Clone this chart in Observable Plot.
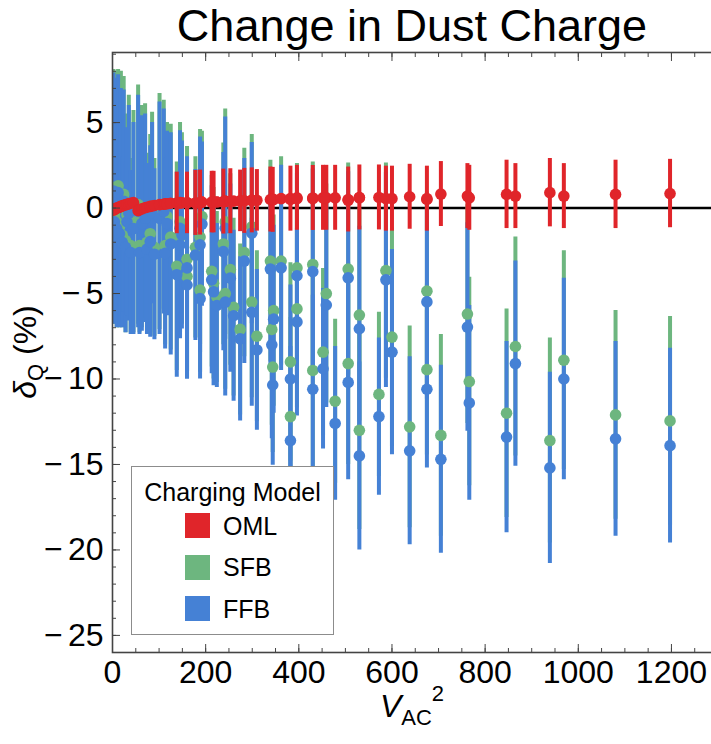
<!DOCTYPE html>
<html><head><meta charset="utf-8">
<script src="https://cdn.jsdelivr.net/npm/d3@7"></script>
<script src="https://cdn.jsdelivr.net/npm/@observablehq/plot@0.6"></script>
<style>
body{margin:0;background:#fff;}
#wrap{position:relative;width:711px;height:744px;font-family:"Liberation Sans",Arial,sans-serif;}
#legend{position:absolute;left:131px;top:466px;width:203px;height:169px;border:1.5px solid #8c8c8c;background:#fff;box-sizing:border-box;}
#legend .lt{position:absolute;left:0;width:100%;top:11px;text-align:center;font-size:25px;line-height:28px;color:#000;}
#legend .sw{position:absolute;left:53px;width:25px;height:25px;}
#legend .lb{position:absolute;left:91px;font-size:25px;line-height:28px;color:#000;}
</style></head><body><div id="wrap"></div>
<script>
// V_AC^2 of each measurement
const vac2 = [2,4,6,9,12,15,18,21,24,28,31,35,39,45,55,58,63,70,74,81,85,90,101,110,113,117,125,
  138,145,145,149,160,160,178,188,188,192,213,217,224,238,242,242,253,260,274,283,299,299,310,339,342,344,346,362,382,382,396,396,
  430,430,452,459,478,506,506,530,530,572,587,600,638,675,675,705,762,766,846,865,939,969,1080,1197];
// OML model
const oml = [-0.12,-0.08,-0.05,0.0,0.03,0.06,0.1,0.13,0.16,0.19,0.22,0.25,0.28,0.32,-0.15,-0.1,-0.05,0.02,0.05,0.1,0.12,0.15,0.2,0.22,0.25,0.25,0.28,
  0.3,0.3,0.32,0.3,0.3,0.32,0.3,0.32,0.3,0.35,0.35,0.35,0.35,0.38,0.4,0.38,0.4,0.4,0.42,0.42,0.45,0.45,0.45,0.5,0.5,0.48,0.5,0.55,0.55,0.5,0.6,0.55,
  0.59,0.55,0.6,0.6,0.6,0.5,0.45,0.62,0.6,0.62,0.55,0.55,0.66,0.55,0.5,0.82,0.7,0.6,0.8,0.7,0.9,0.7,0.8,0.85];
const omlErr = [0.15,0.15,0.15,0.15,0.15,0.15,0.15,0.15,0.15,0.15,0.15,0.15,0.15,0.15,0.15,0.15,0.15,0.15,0.15,0.15,0.15,0.15,0.15,0.15,0.15,0.15,0.15,
  1.8,0.3,0.3,0.3,1.8,0.3,1.9,1.9,0.3,0.3,1.8,1.8,0.3,1.9,0.3,0.3,1.9,0.3,1.8,1.9,1.9,0.3,1.8,1.9,0.3,1.9,0.3,0.3,1.9,0.3,1.9,0.3,
  1.9,0.3,1.9,1.9,1.9,1.9,0.3,1.9,0.3,1.9,1.9,1.9,1.9,1.9,0.3,1.9,1.9,1.9,2.0,1.9,2.0,1.9,2.0,2.0];
// SFB model
const sfb = [1.2,-0.4,1.0,-0.8,1.3,-1.1,0.6,-1.6,0.8,-1.9,-0.4,0.1,-2.2,-0.8,0.2,-2.2,-0.5,-0.2,-2.0,-1.5,0.1,-2.3,-0.2,0.2,-2.2,-0.5,-1.7,
  -3.4,-0.8,-1.7,-1.2,-3.0,-4.0,-2.3,-1.7,-4.8,-0.5,-3.7,-4.4,-5.2,-2.1,-0.8,-5.0,-3.6,-5.8,-7.1,-2.6,-1.1,-5.5,-7.5,-3.1,-7.1,-9.3,-6.0,-3.1,-9.0,-12.2,-3.5,-5.9,
  -3.3,-9.5,-8.43,-5.0,-11.3,-3.57,-9.1,-6.26,-13.0,-10.9,-3.66,-7.55,-12.8,-4.86,-9.45,-13.3,-6.2,-10.15,-12.0,-8.1,-13.6,-8.9,-12.1,-12.45];
const sfbErr = [6.9,6.4,7.0,6.2,6.8,5.9,7.4,5.4,6.9,5.4,5.9,6.5,5.1,6.5,7.0,5.1,6.5,6.3,5.2,5.8,5.5,5.2,6.9,6.1,5.8,5.5,6.6,
  6.1,5.8,5.6,5.6,6.6,5.6,5.3,6.3,4.8,5.0,5.6,5.6,5.0,5.9,6.6,5.6,5.6,5.2,5.0,6.1,5.4,5.6,5.0,5.9,5.6,5.0,5.6,6.1,5.8,5.8,6.1,5.8,
  6.0,5.8,4.9,6.4,4.8,6.2,5.9,6.2,5.8,4.8,6.3,6.4,5.9,5.8,5.0,5.9,6.4,6.1,6.1,6.4,6.0,6.4,6.1,6.1];
// FFB model
const ffb = [1.0,-0.8,0.6,-1.2,0.9,-1.5,0.2,-2.0,0.4,-2.3,-0.8,-0.3,-2.6,-1.2,-0.2,-2.6,-0.9,-0.6,-2.4,-1.96,-0.3,-2.7,-0.6,-0.2,-2.65,-0.9,-2.1,
  -3.9,-1.18,-2.15,-1.57,-3.5,-4.5,-2.75,-2.15,-5.3,-0.94,-4.2,-4.9,-5.7,-2.55,-1.18,-5.5,-4.1,-6.3,-7.65,-3.1,-1.47,-6.1,-8.3,-3.57,-8.0,-10.35,-6.5,-3.5,-10.0,-13.6,-3.96,-6.66,
  -3.72,-10.6,-9.4,-5.67,-12.6,-4.08,-10.2,-7.06,-14.5,-12.2,-4.2,-8.43,-14.2,-5.49,-10.6,-14.7,-6.96,-11.4,-13.4,-9.1,-15.2,-10.0,-13.5,-13.9];
const ffbErr = [6.9,6.0,7.0,5.8,6.9,5.5,6.8,5.0,6.5,5.0,5.5,6.3,4.8,6.2,6.8,4.8,6.3,6.1,5.0,5.6,5.3,5.0,6.8,6.0,5.6,5.4,6.5,
  6.0,5.7,5.5,5.5,6.5,5.5,5.0,6.3,4.7,4.8,5.5,5.5,4.8,5.8,6.5,5.5,5.5,5.0,4.8,6.0,5.3,5.5,4.7,5.8,5.5,4.7,5.5,6.0,5.5,5.5,6.0,5.5,
  6.0,5.5,4.7,6.0,4.5,6.2,5.7,6.0,5.5,4.6,6.3,6.0,5.5,5.7,4.6,5.5,6.1,5.7,5.6,6.0,5.6,5.9,5.7,5.7];

const models = ["OML", "SFB", "FFB"];
const colors = ["#E0252A", "#6DB67F", "#4581D5"];
const yTicks = [-25, -20, -15, -10, -5, 0, 5];
const xTicks = [0, 200, 400, 600, 800, 1000, 1200];

const data = vac2.map((x, i) => ({x, oml: oml[i], omlErr: omlErr[i], sfb: sfb[i], sfbErr: sfbErr[i], ffb: ffb[i], ffbErr: ffbErr[i]}));
const col = Object.fromEntries(models.map((m, i) => [m, colors[i]]));
const noText = () => "";
const yFmt = v => v < 0 ? "\u2212\u2006" + Math.abs(v) : String(v);
const font = "Liberation Sans, Arial, sans-serif";
const R = 5.8;

const plot = Plot.plot({
  width: 711, height: 744,
  marginLeft: 112, marginRight: 0, marginTop: 52, marginBottom: 92,
  style: {fontFamily: font, background: "white", overflow: "visible", color: "black"},
  x: {domain: [0, 1286]},
  y: {domain: [-26, 9.1]},
  marks: [
    Plot.ruleY([0], {stroke: "black", strokeWidth: 2.5}),
    Plot.ruleX(data, {x: "x", y1: d => d.sfb - d.sfbErr, y2: d => d.sfb + d.sfbErr, stroke: col.SFB, strokeWidth: 4, clip: true}),
    Plot.ruleX(data, {x: "x", y1: d => d.ffb - d.ffbErr, y2: d => d.ffb + d.ffbErr, stroke: col.FFB, strokeWidth: 4, clip: true}),
    Plot.dot(data, {x: "x", y: "sfb", r: R, fill: col.SFB, clip: true}),
    Plot.dot(data, {x: "x", y: "ffb", r: R, fill: col.FFB, clip: true}),
    Plot.ruleX(data, {x: "x", y1: d => d.oml - d.omlErr, y2: d => d.oml + d.omlErr, stroke: col.OML, strokeWidth: 4, clip: true}),
    Plot.dot(data, {x: "x", y: "oml", r: R, fill: col.OML, clip: true}),
    Plot.frame({stroke: "#444", strokeWidth: 1.6, insetRight: -4}),
    Plot.axisY({ticks: yTicks, tickSize: -8, tickPadding: 17, fontSize: 32, label: null, stroke: "#444", tickFormat: yFmt}),
    Plot.axisY({ticks: d3.range(-26, 10, 1), tickSize: -4, tickFormat: noText, label: null, stroke: "#444"}),
    Plot.axisX({ticks: xTicks, tickSize: -8, tickPadding: 16, fontSize: 32, label: null, stroke: "#444", tickFormat: d3.format("d")}),
    Plot.axisX({ticks: d3.range(0, 1300, 50), tickSize: -4, tickFormat: noText, label: null, stroke: "#444"}),
    Plot.axisX({anchor: "top", ticks: xTicks, tickSize: -8, tickFormat: noText, label: null, stroke: "#444"}),
    Plot.axisX({anchor: "top", ticks: d3.range(0, 1300, 50), tickSize: -4, tickFormat: noText, label: null, stroke: "#444"})
  ]
});

const svg = d3.select(plot);
svg.append("text").attr("x", 412).attr("y", 41).attr("text-anchor", "middle")
  .attr("font-size", 45).attr("font-family", font).attr("fill", "black").text("Change in Dust Charge");

const yl = svg.append("text").attr("transform", "translate(36,352) rotate(-90)").attr("text-anchor", "middle")
  .attr("font-size", 32).attr("font-family", font).attr("fill", "black");
yl.append("tspan").attr("font-style", "italic").text("δ");
yl.append("tspan").attr("font-size", 22).attr("dy", 7).text("Q");
yl.append("tspan").attr("dy", -7).text(" (%)");

const xl = svg.append("text").attr("x", 412).attr("y", 717).attr("text-anchor", "middle")
  .attr("font-size", 32).attr("font-family", font).attr("fill", "black");
xl.append("tspan").attr("font-style", "italic").text("V");
xl.append("tspan").attr("font-size", 22).attr("dy", 8).text("AC");
xl.append("tspan").attr("font-size", 22).attr("dy", -24).text("2");

const wrap = document.getElementById("wrap");
wrap.appendChild(plot);

const lg = document.createElement("div");
lg.id = "legend";
const lt = document.createElement("div");
lt.className = "lt"; lt.textContent = "Charging Model";
lg.appendChild(lt);
models.forEach((m, i) => {
  const top = 46 + i * 41.7;
  const sw = document.createElement("div");
  sw.className = "sw"; sw.style.top = top + "px"; sw.style.background = colors[i];
  const lb = document.createElement("div");
  lb.className = "lb"; lb.style.top = (top - 1.5) + "px"; lb.textContent = m;
  lg.appendChild(sw); lg.appendChild(lb);
});
wrap.appendChild(lg);
</script>
</body></html>
